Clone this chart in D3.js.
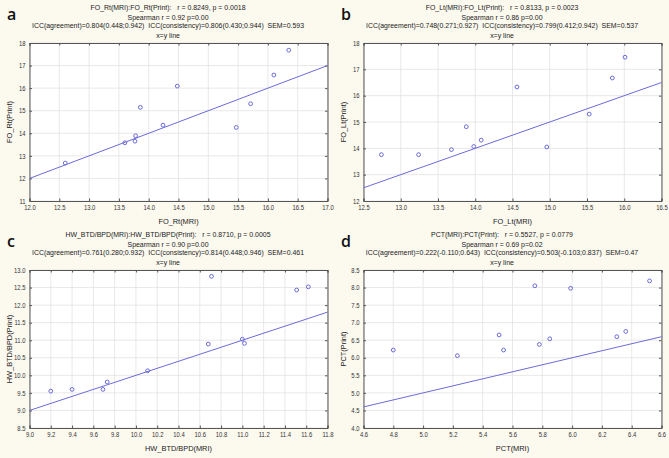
<!DOCTYPE html>
<html lang="en">
<head>
<meta charset="utf-8">
<title>MRI vs Print scatter plots</title>
<script src="https://cdn.jsdelivr.net/npm/d3@7"></script>
<style>
  html, body { margin: 0; padding: 0; background: #fcf9ef; }
  svg { display: block; font-family: "Liberation Sans", Arial, sans-serif; }
  .ttl { font-size: 6.95px; fill: #222; white-space: pre; }
  .tick-lbl { font-size: 6.7px; fill: #333; }
  .ax-title { font-size: 7.4px; fill: #222; }
  .letter { font-family: "Open Sans", "Liberation Sans", sans-serif; font-size: 16px; font-weight: 600; fill: #111; }
</style>
</head>
<body>
<script>
// panel letters and header lines
var letters = ["a", "b", "c", "d"];
var titlesA = ["FO_Rt(MRI):FO_Rt(Print):   r = 0.8249, p = 0.0018", "Spearman r = 0.92 p=0.00",
  "ICC(agreement)=0.804(0.448;0.942)  ICC(consistency)=0.806(0.430;0.944)  SEM=0.593", "x=y line"];
var titlesB = ["FO_Lt(MRI):FO_Lt(Print):   r = 0.8133, p = 0.0023", "Spearman r = 0.86 p=0.00",
  "ICC(agreement)=0.748(0.271;0.927)  ICC(consistency)=0.799(0.412;0.942)  SEM=0.537", "x=y line"];
var titlesC = ["HW_BTD/BPD(MRI):HW_BTD/BPD(Print):   r = 0.8710, p = 0.0005", "Spearman r = 0.90 p=0.00",
  "ICC(agreement)=0.761(0.280;0.932)  ICC(consistency)=0.814(0.448;0.946)  SEM=0.461", "x=y line"];
var titlesD = ["PCT(MRI):PCT(Print):   r = 0.5527, p = 0.0779", "Spearman r = 0.69 p=0.02",
  "ICC(agreement)=0.222(-0.110;0.643)  ICC(consistency)=0.503(-0.103;0.837)  SEM=0.47", "x=y line"];

var xLabels = ["FO_Rt(MRI)", "FO_Lt(MRI)", "HW_BTD/BPD(MRI)", "PCT(MRI)"];
var yLabels = ["FO_Rt(Print)", "FO_Lt(Print)", "HW_BTD/BPD(Print)", "PCT(Print)"];

// tick values
var aXTicks = [12.0, 12.5, 13.0, 13.5, 14.0, 14.5, 15.0, 15.5, 16.0, 16.5, 17.0];
var aYTicks = [11, 12, 13, 14, 15, 16, 17, 18];
var bXTicks = [12.5, 13.0, 13.5, 14.0, 14.5, 15.0, 15.5, 16.0, 16.5];
var bYTicks = [12, 13, 14, 15, 16, 17, 18];
var cXTicks = [9.0, 9.2, 9.4, 9.6, 9.8, 10.0, 10.2, 10.4, 10.6, 10.8, 11.0, 11.2, 11.4, 11.6, 11.8];
var cYTicks = [8.5, 9.0, 9.5, 10.0, 10.5, 11.0, 11.5, 12.0, 12.5, 13.0];
var dXTicks = [4.6, 4.8, 5.0, 5.2, 5.4, 5.6, 5.8, 6.0, 6.2, 6.4, 6.6];
var dYTicks = [4.0, 4.5, 5.0, 5.5, 6.0, 6.5, 7.0, 7.5, 8.0, 8.5];

// measurements (MRI on x, Print on y)
var aMri   = [12.6, 13.6, 13.78, 13.77, 13.86, 14.24, 14.48, 15.47, 15.71, 16.1, 16.35];
var aPrint = [12.68, 13.58, 13.89, 13.65, 15.15, 14.36, 16.09, 14.26, 15.31, 16.58, 17.68];
var bMri   = [12.74, 13.24, 13.68, 13.88, 13.98, 14.08, 14.56, 14.96, 15.53, 15.84, 16.01];
var bPrint = [13.76, 13.76, 13.95, 14.82, 14.07, 14.31, 16.33, 14.05, 15.3, 16.67, 17.46];
var cMri   = [9.2, 9.4, 9.69, 9.73, 10.11, 10.68, 10.71, 11.0, 11.02, 11.51, 11.62];
var cPrint = [9.55, 9.6, 9.6, 9.81, 10.13, 10.89, 12.82, 11.03, 10.91, 12.43, 12.52];
var dMri   = [4.8, 5.23, 5.51, 5.54, 5.75, 5.78, 5.85, 5.99, 6.3, 6.36, 6.52];
var dPrint = [6.22, 6.06, 6.65, 6.22, 8.05, 6.38, 6.54, 7.98, 6.6, 6.75, 8.19];

var w = 669, h = 458;
var svg = d3.select("body").append("svg").attr("width", w).attr("height", h);

var panels = [
  {ox: 0,   oy: 0,   titles: titlesA, xt: aXTicks, yt: aYTicks, xs: aMri, ys: aPrint, xf: ".1f", yf: "d"},
  {ox: 334, oy: 0,   titles: titlesB, xt: bXTicks, yt: bYTicks, xs: bMri, ys: bPrint, xf: ".1f", yf: "d"},
  {ox: 0,   oy: 227, titles: titlesC, xt: cXTicks, yt: cYTicks, xs: cMri, ys: cPrint, xf: ".1f", yf: ".1f"},
  {ox: 334, oy: 227, titles: titlesD, xt: dXTicks, yt: dYTicks, xs: dMri, ys: dPrint, xf: ".1f", yf: ".1f"}
];

var pl = 29.5, pr = 327.5, pt = 43, pb = 201;
var blue = "#6b6bd8";
var squeeze = "scale(0.88,1)"; // tick labels in the original are a bit narrow

panels.forEach(function(p, i) {
  var g = svg.append("g").attr("transform", "translate(" + p.ox + "," + p.oy + ")");

  var x = d3.scaleLinear().domain(d3.extent(p.xt)).range([pl, pr]);
  var y = d3.scaleLinear().domain(d3.extent(p.yt)).range([pb, pt]);

  g.append("rect").attr("x", pl).attr("y", pt).attr("width", pr - pl).attr("height", pb - pt)
    .attr("fill", "#fff");

  // grid
  g.append("g").selectAll("line").data(p.xt).join("line")
    .attr("x1", d => x(d)).attr("x2", d => x(d)).attr("y1", pt).attr("y2", pb)
    .attr("stroke", "#e2e2e2").attr("stroke-width", 0.8);
  g.append("g").selectAll("line").data(p.yt).join("line")
    .attr("y1", d => y(d)).attr("y2", d => y(d)).attr("x1", pl).attr("x2", pr)
    .attr("stroke", "#e2e2e2").attr("stroke-width", 0.8);

  // axes with inside ticks on all four sides
  var axB = d3.axisBottom(x).tickValues(p.xt).tickSize(-2.5).tickPadding(4.5).tickFormat(d3.format(p.xf));
  var axL = d3.axisLeft(y).tickValues(p.yt).tickSize(-2.5).tickPadding(4.5).tickFormat(d3.format(p.yf));
  var axT = d3.axisTop(x).tickValues(p.xt).tickSize(-2.5).tickFormat("");
  var axR = d3.axisRight(y).tickValues(p.yt).tickSize(-2.5).tickFormat("");

  [[axB, "translate(0," + pb + ")"], [axL, "translate(" + pl + ",0)"],
   [axT, "translate(0," + pt + ")"], [axR, "translate(" + pr + ",0)"]].forEach(function(a) {
    var ax = g.append("g").attr("transform", a[1]).call(a[0]);
    ax.attr("font-family", null).attr("font-size", null);
    ax.select(".domain").attr("stroke", "#555").attr("stroke-width", 1);
    ax.selectAll(".tick line").attr("stroke", "#555");
    ax.selectAll(".tick text").attr("class", "tick-lbl").attr("transform", squeeze);
  });

  // x=y line
  var lo = Math.max(x.domain()[0], y.domain()[0]), hi = Math.min(x.domain()[1], y.domain()[1]);
  g.append("line").attr("x1", x(lo)).attr("y1", y(lo)).attr("x2", x(hi)).attr("y2", y(hi))
    .attr("stroke", blue).attr("stroke-width", 1);

  // points
  g.append("g").selectAll("circle").data(p.xs).join("circle")
    .attr("cx", d => x(d)).attr("cy", (d, j) => y(p.ys[j])).attr("r", 1.9)
    .attr("fill", "none").attr("stroke", blue).attr("stroke-width", 1);

  // header
  g.append("g").selectAll("text").data(p.titles).join("text")
    .attr("class", "ttl").attr("x", 168).attr("y", (d, j) => [9.8, 19.5, 28.3, 37.6][j])
    .attr("text-anchor", "middle").text(d => d);

  g.append("text").attr("class", "letter").attr("x", 7).attr("y", 20).text(letters[i]);

  g.append("text").attr("class", "ax-title").attr("x", (pl + pr) / 2).attr("y", 223.5)
    .attr("text-anchor", "middle").text(xLabels[i]);
  g.append("text").attr("class", "ax-title").attr("text-anchor", "middle")
    .attr("transform", "translate(11.5," + (pt + pb) / 2 + ") rotate(-90)").text(yLabels[i]);
});
</script>
</body>
</html>
